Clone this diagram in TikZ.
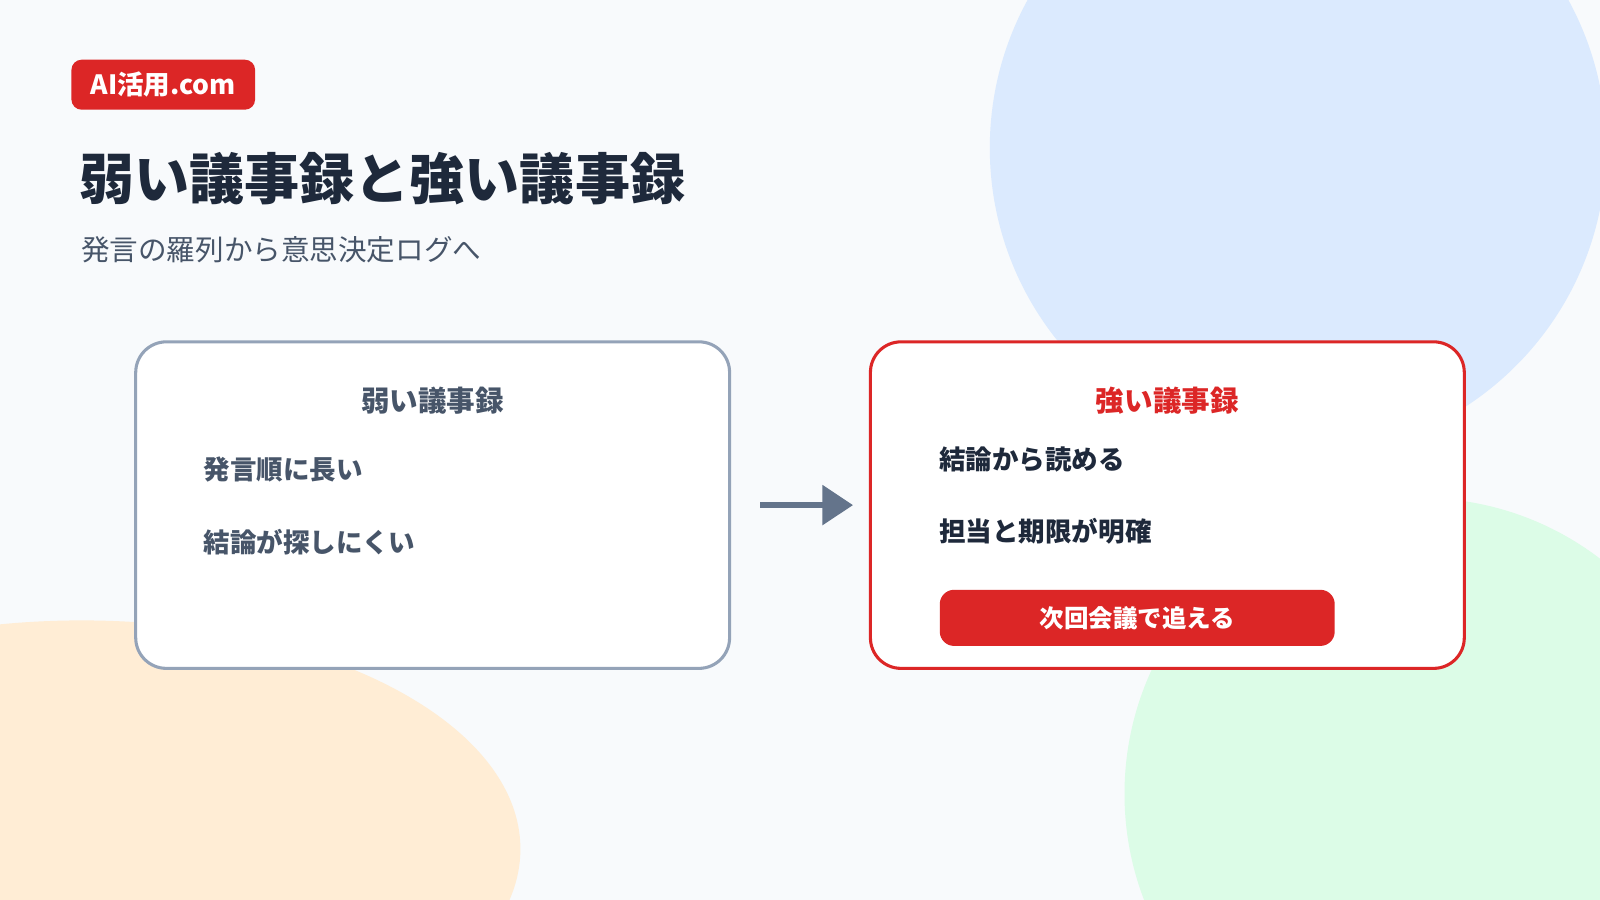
\documentclass[tikz,border=0pt]{standalone}
\usepackage{fontspec}
\setmainfont{Noto Sans CJK JP}
\usetikzlibrary{arrows.meta}
\definecolor{bg}{HTML}{F8FAFC}
\definecolor{cblue}{HTML}{DBEAFE}
\definecolor{cgreen}{HTML}{DCFCE7}
\definecolor{corange}{HTML}{FFEDD5}
\definecolor{cred}{HTML}{DC2626}
\definecolor{dark}{HTML}{1E293B}
\definecolor{slate}{HTML}{475569}
\definecolor{sborder}{HTML}{94A3B8}
\definecolor{sarrow}{HTML}{64748B}
\tikzset{
 card/.style={draw, line width=3pt, fill=white, rounded corners=30pt},
 item/.style={anchor=west, font=\bfseries\fontsize{26}{30}\selectfont},
 head/.style={font=\bfseries\fontsize{28}{32}\selectfont},
}
\begin{document}
\begin{tikzpicture}[x=1pt,y=-1pt]
\useasboundingbox (0,0) rectangle (1568,882);
\fill[bg] (0,0) rectangle (1568,882);
\begin{scope}
\clip (0,0) rectangle (1568,882);
\fill[cblue] (1272,145) circle (302);
\fill[cgreen] (1392,778) circle (290);
\fill[corange] (80,832) ellipse (430 and 224);
\end{scope}
\node[fill=cred, rounded corners=10pt, minimum width=180pt, minimum height=49pt, text=white, font=\bfseries\fontsize{26}{30}\selectfont] (badge) at (160,83) {AI活用.com};
\node[anchor=west, text=dark, font=\bfseries\fontsize{54}{60}\selectfont] (title) at (74,175) {弱い議事録と強い議事録};
\node[anchor=west, text=slate, font=\fontsize{28}{32}\selectfont] (sub) at (76,245) {発言の羅列から意思決定ログへ};
\draw[card, draw=sborder] (133,335) rectangle (715,655);
\node (lbox) at (424,495) {};
\node[head, text=slate] (lt) at (424,393) {弱い議事録};
\node[item, text=slate] (l1) at (196,460) {発言順に長い};
\node[item, text=slate] (l2) at (196,531) {結論が探しにくい};
\draw[card, draw=cred] (853,335) rectangle (1435,655);
\node (rbox) at (1144,495) {};
\node[head, text=cred] (rt) at (1144,393) {強い議事録};
\node[item, text=dark] (r1) at (917,450) {結論から読める};
\node[item, text=dark] (r2) at (917,521) {担当と期限が明確};
\node[fill=cred, rounded corners=14pt, minimum width=387pt, minimum height=55pt, text=white, font=\bfseries\fontsize{24}{28}\selectfont] (btn) at (1114.5,605.5) {次回会議で追える};
\coordinate (a1) at (745,495);
\coordinate (a2) at (836,495);
\draw[sarrow, line width=6pt, -{Triangle[length=30pt,width=38pt]}] (a1) -- (a2);
\end{tikzpicture}
\end{document}
